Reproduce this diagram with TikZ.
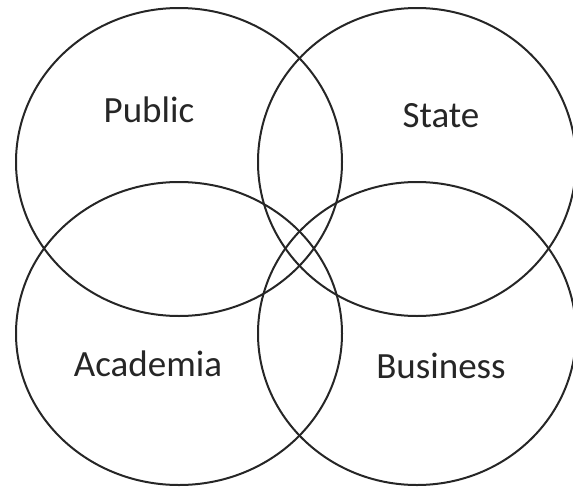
\documentclass[tikz,border=0pt]{standalone}
\usepackage{fontspec}
\setmainfont{Carlito}
\tikzset{ ring/.style={line width=2pt, draw=black!85},
  sector/.style={font=\fontsize{37}{40}\selectfont, text=black!85, anchor=base, inner sep=0pt} }

\begin{document}
\begin{tikzpicture}[x=1pt, y=-1pt]
  \useasboundingbox (0, 0) rectangle (573, 490);
  \clip (0, 0) rectangle (573, 490);
	% upper pair
	\draw[ring] (179, 162) ellipse (163 and 154);
	\draw[ring] (417, 162) ellipse (159 and 154);
	% lower pair
	\draw[ring] (179, 333.5) ellipse (163 and 151.5);
	\draw[ring] (417, 333.5) ellipse (159 and 151.5);
	\node[sector] (public) at (149, 122) {Public};
	\node[sector] (state) at (441, 127) {State};
	\node[sector] (academia) at (148, 376) {Academia};
	\node[sector] (business) at (441, 378) {Business};
\end{tikzpicture}
\end{document}
